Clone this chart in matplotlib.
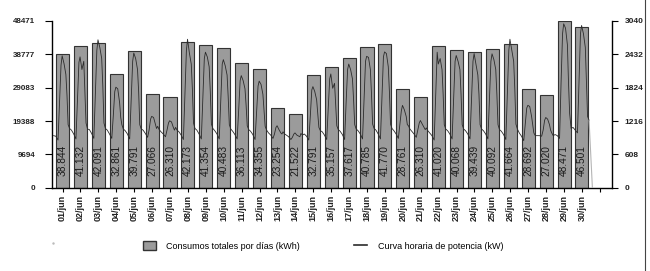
import matplotlib
matplotlib.use("Agg")
import matplotlib.pyplot as plt
from matplotlib.patches import Patch
from matplotlib.lines import Line2D

plt.rcParams['font.family'] = ['Liberation Sans', 'DejaVu Sans']

# consumos diarios (kWh)
days = list(range(1, 31))
day_labels = ["%02d/jun" % d for d in days]
daily_kwh = [38844, 41132, 42091, 32861, 39791, 27066, 26310, 42173, 41354, 40483,
             36113, 34355, 23254, 21522, 32791, 35157, 37617, 40785, 41770, 28761,
             26310, 41020, 40068, 39439, 40092, 41664, 28692, 27020, 48471, 46501]

hours = [0, 3, 6, 8, 10, 11.5, 14, 16.5, 18, 19.5, 21.5]
hourly_kw = [
    [950, 940, 870, 1560, 2230, 2400, 2260, 2060, 1680, 1150, 1080],
    [1050, 980, 890, 1600, 2280, 2380, 2150, 2300, 1750, 1180, 1070],
    [1060, 990, 900, 1700, 2500, 2690, 2550, 2350, 1850, 1180, 1080],
    [1050, 980, 900, 1300, 1750, 1830, 1800, 1550, 1280, 1150, 1070],
    [1040, 980, 890, 1600, 2300, 2450, 2350, 2150, 1750, 1150, 1070],
    [1050, 990, 920, 1050, 1250, 1300, 1280, 1150, 1080, 1120, 1060],
    [1020, 980, 930, 1050, 1180, 1220, 1200, 1100, 1050, 1100, 1050],
    [1020, 960, 880, 1700, 2500, 2700, 2450, 2250, 1800, 1180, 1080],
    [1050, 980, 890, 1600, 2350, 2465, 2380, 2200, 1750, 1160, 1080],
    [1040, 980, 890, 1550, 2250, 2330, 2220, 2050, 1650, 1150, 1070],
    [1030, 970, 890, 1400, 1950, 2040, 1950, 1800, 1500, 1130, 1060],
    [1030, 970, 880, 1350, 1850, 1940, 1880, 1700, 1400, 1120, 1050],
    [1000, 960, 900, 980, 1100, 1130, 1060, 1000, 980, 1020, 980],
    [960, 930, 880, 920, 980, 1000, 960, 940, 930, 990, 960],
    [980, 940, 870, 1300, 1780, 1840, 1750, 1600, 1350, 1100, 1040],
    [1020, 960, 880, 1450, 1980, 2070, 1810, 1900, 1500, 1130, 1060],
    [1030, 970, 880, 1550, 2150, 2250, 2150, 1980, 1600, 1150, 1070],
    [1040, 980, 890, 1600, 2300, 2390, 2370, 2150, 1700, 1160, 1080],
    [1050, 980, 890, 1650, 2380, 2470, 2440, 2200, 1750, 1160, 1080],
    [1040, 980, 900, 1150, 1400, 1500, 1420, 1300, 1150, 1130, 1070],
    [1030, 980, 920, 1050, 1180, 1225, 1160, 1100, 1060, 1090, 1040],
    [1000, 950, 870, 1650, 2465, 2250, 2350, 2150, 1700, 1150, 1070],
    [1040, 980, 890, 1600, 2300, 2405, 2300, 2150, 1700, 1150, 1070],
    [1040, 980, 890, 1600, 2300, 2440, 2250, 2050, 1700, 1150, 1070],
    [1040, 980, 890, 1600, 2300, 2436, 2330, 2150, 1700, 1150, 1060],
    [1030, 970, 880, 1700, 2500, 2700, 2500, 2300, 1800, 1160, 1070],
    [1000, 940, 860, 1150, 1450, 1500, 1480, 1300, 1150, 1000, 950],
    [950, 950, 940, 1050, 1230, 1280, 1250, 1150, 1050, 1000, 950],
    [970, 950, 900, 1900, 2800, 2980, 2900, 2600, 1900, 1350, 1080],
    [1100, 1050, 1000, 1900, 2800, 2950, 2800, 2550, 1900, 1300, 1230],
]
end_hour, end_kw = 26.0, 0  # la curva cae a cero al final del dia 30

left_ticks = [0, 9694, 19388, 29083, 38777, 48471]
right_ticks = [0, 608, 1216, 1824, 2432, 3040]

fig = plt.figure(figsize=(6.5, 2.71), dpi=100)
ax = fig.add_axes([0.08, 0.3063, 0.8615, 0.618])

ax.bar(days, daily_kwh, width=0.73, color='#9b9b9b', edgecolor='#333333', linewidth=0.8, zorder=2)
for d, v in zip(days, daily_kwh):
    txt = "{:,}".format(v).replace(",", ".")
    ax.text(d, 7900, txt, rotation=90, ha='center', va='center', fontsize=7.3, color='#1a1a1a', zorder=4)

ax.set_xlim(0.413, 31.676)
ax.set_ylim(0, 48471)
ax.set_xticks(days + [31])
ax.set_xticklabels(day_labels + [""], rotation=90, fontsize=6.5, fontweight='bold', color='#222222')
ax.set_yticks(left_ticks)
ax.set_yticklabels([str(t) for t in left_ticks], fontsize=5.8, fontweight='bold', color='#222222')
ax.tick_params(axis='x', length=3, width=0.8, pad=2)
ax.tick_params(axis='y', length=5, width=0.8, pad=7)
ax.spines['top'].set_visible(False)
ax.spines['right'].set_visible(False)
for s in ['left', 'bottom']:
    ax.spines[s].set_linewidth(1.0)

ax2 = ax.twinx()
xs, ys = [], []
for d, row in zip(days, hourly_kw):
    for h, v in zip(hours, row):
        xs.append(d + (h - 12) / 24.0)
        ys.append(v)
ax2.plot(xs, ys, color='#2b2b2b', linewidth=0.6, zorder=3)
# tramo final, mas claro en el original
ax2.plot([xs[-1], 30 + (end_hour - 12) / 24.0], [ys[-1], end_kw], color='#b5b5b5', linewidth=0.8, zorder=3)
ax2.set_ylim(0, 3040)
ax2.set_yticks(right_ticks)
ax2.set_yticklabels([str(t) for t in right_ticks], fontsize=6, fontweight='bold', color='#222222')
ax2.tick_params(axis='y', length=4, width=0.8, pad=5)
ax2.spines['top'].set_visible(False)
ax2.spines['left'].set_visible(False)
ax2.spines['bottom'].set_visible(False)
ax2.spines['right'].set_linewidth(1.0)

handles = [Patch(facecolor='#9b9b9b', edgecolor='#333333', linewidth=1.0),
           Line2D([0], [0], color='#2b2b2b', linewidth=1.2)]
labels = ["Consumos totales por días (kWh)", "Curva horaria de potencia (kW)"]
fig.legend(handles, labels, loc='center', bbox_to_anchor=(0.497, 0.092), ncol=2, frameon=False,
           fontsize=6.5, handlelength=1.4, handleheight=1.2, columnspacing=6, handletextpad=1.2)

# linea del borde derecho y punto suelto del original
fig.add_artist(Line2D([0.9925, 0.9925], [0, 1], transform=fig.transFigure, color='#444444', linewidth=0.8))
fig.add_artist(Line2D([0.082], [0.103], transform=fig.transFigure, marker='.', markersize=1.5,
                      color='#bbbbbb', linestyle='none'))

fig.savefig("out.png", dpi=100)
